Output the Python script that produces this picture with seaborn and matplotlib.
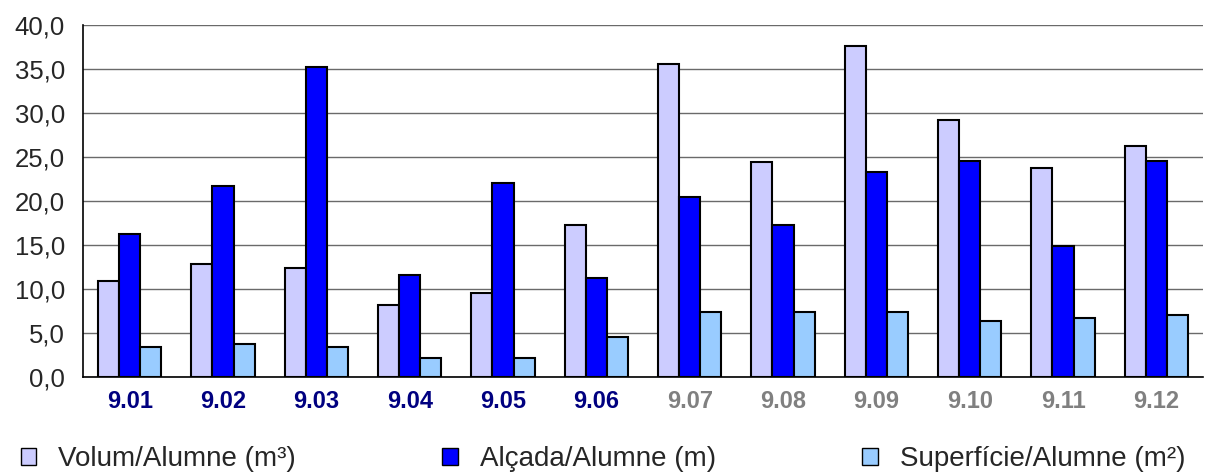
import pandas as pd
import matplotlib.pyplot as plt
import matplotlib.ticker as mticker
from matplotlib.patches import Patch
import seaborn as sns

# data
grups = ['9.01', '9.02', '9.03', '9.04', '9.05', '9.06',
         '9.07', '9.08', '9.09', '9.10', '9.11', '9.12']
volum = [10.9, 12.8, 12.35, 8.2, 9.6, 17.3, 35.6, 24.4, 37.6, 29.2, 23.7, 26.3]
alcada = [16.3, 21.7, 35.2, 11.55, 22.1, 11.2, 20.5, 17.3, 23.3, 24.5, 14.9, 24.5]
superficie = [3.4, 3.8, 3.4, 2.2, 2.2, 4.6, 7.35, 7.35, 7.35, 6.4, 6.75, 7.0]
series = ['Volum/Alumne (m³)', 'Alçada/Alumne (m)', 'Superfície/Alumne (m²)']
colors = ['#CCCCFF', '#0000FF', '#99CCFF']

df = pd.DataFrame({'grup': grups * 3,
                   'serie': [series[0]] * 12 + [series[1]] * 12 + [series[2]] * 12,
                   'valor': volum + alcada + superficie})

sns.set_style('white')
plt.rcParams['font.family'] = ['Liberation Sans', 'DejaVu Sans']

fig = plt.figure(figsize=(12.05, 4.75), dpi=100)
ax = fig.add_axes([83 / 1205, 1 - 377 / 475, 1120 / 1205, 352 / 475])

sns.barplot(data=df, x='grup', y='valor', hue='serie', palette=colors, saturation=1,
            width=0.68, edgecolor='black', linewidth=1.5, ax=ax, legend=False)

ax.set_ylim(0, 40)
ax.set_xlim(-0.5, 11.5)
ax.set_yticks(range(0, 41, 5))
ax.yaxis.set_major_formatter(mticker.FuncFormatter(lambda v, p: f'{v:.1f}'.replace('.', ',')))
ax.yaxis.grid(True, color='#6a6a6a', linewidth=1)
ax.set_axisbelow(True)
ax.set_xlabel('')
ax.set_ylabel('')

# ticks at category boundaries
ax.set_xticks([i - 0.5 for i in range(13)], minor=True)
ax.tick_params(axis='x', which='minor', length=5, width=1, color='black', direction='out')
ax.tick_params(axis='x', which='major', length=0, pad=9, labelsize=17)
ax.tick_params(axis='y', length=7, width=1, color='black', direction='out', labelsize=18.5, pad=6)
for i, lbl in enumerate(ax.get_xticklabels()):
    lbl.set_fontweight('bold')
    lbl.set_color('#000080' if i < 6 else '#808080')

for s in ['top', 'right']:
    ax.spines[s].set_visible(False)
for s in ['left', 'bottom']:
    ax.spines[s].set_color('black')
    ax.spines[s].set_linewidth(1.2)

handles = [Patch(facecolor=c, edgecolor='black', linewidth=1) for c in colors]
fig.legend(handles, series, loc='lower left', bbox_to_anchor=(0.008, -0.018, 0.985, 0.09),
           mode='expand', ncol=3, frameon=False, fontsize=20,
           handlelength=0.55, handleheight=0.55, handletextpad=0.8, borderaxespad=0)

fig.savefig('out.png', dpi=100)
